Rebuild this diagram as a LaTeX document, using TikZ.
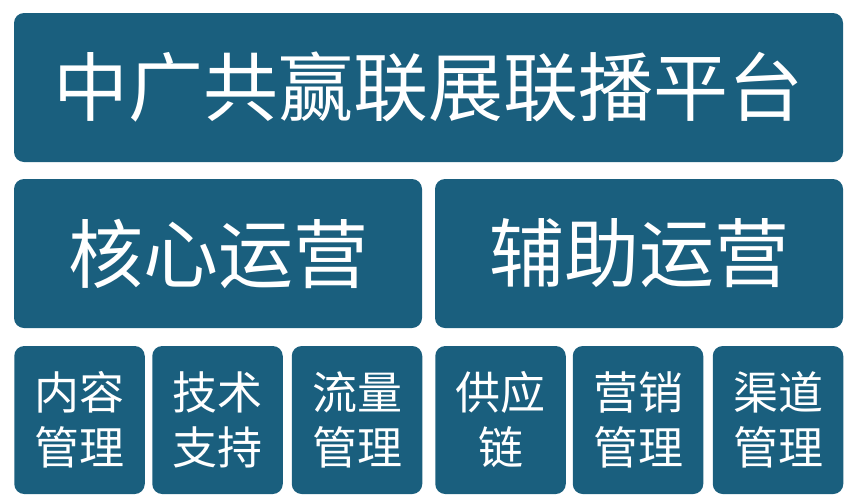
\documentclass[tikz,border=0pt]{standalone}
\usepackage{fontspec}
\setmainfont{Noto Sans CJK SC}
\definecolor{tileblue}{RGB}{26,95,126}
\tikzset{
  tile/.style={fill=tileblue, rounded corners=10pt, text=white, inner sep=0pt, align=center},
  bigtile/.style={tile, minimum width=408pt, minimum height=149pt, font=\fontsize{75}{90}\selectfont},
  smalltile/.style={tile, minimum width=130.5pt, minimum height=148pt, font=\fontsize{45}{55}\selectfont}
}
\begin{document}
\begin{tikzpicture}[x=1pt,y=-1pt]
\useasboundingbox (0,0) rectangle (846,501);

% top row
\node[tile, minimum width=829pt, minimum height=149pt, font=\fontsize{75}{90}\selectfont] (platform) at (428.5,87.5) {中广共赢联展联播平台};

% middle row
\node[bigtile] (core) at (218,253.5) {核心运营};
\node[bigtile] (aux) at (639,253.5) {辅助运营};

% bottom row
\node[smalltile] (content) at (79.5,420) {内容\\管理};
\node[smalltile] (tech) at (217.5,420) {技术\\支持};
\node[smalltile] (traffic) at (357,420) {流量\\管理};
\node[smalltile] (supply) at (500.5,420) {供应\\链};
\node[smalltile] (market) at (638,420) {营销\\管理};
\node[smalltile] (channel) at (778,420) {渠道\\管理};

\end{tikzpicture}
\end{document}
